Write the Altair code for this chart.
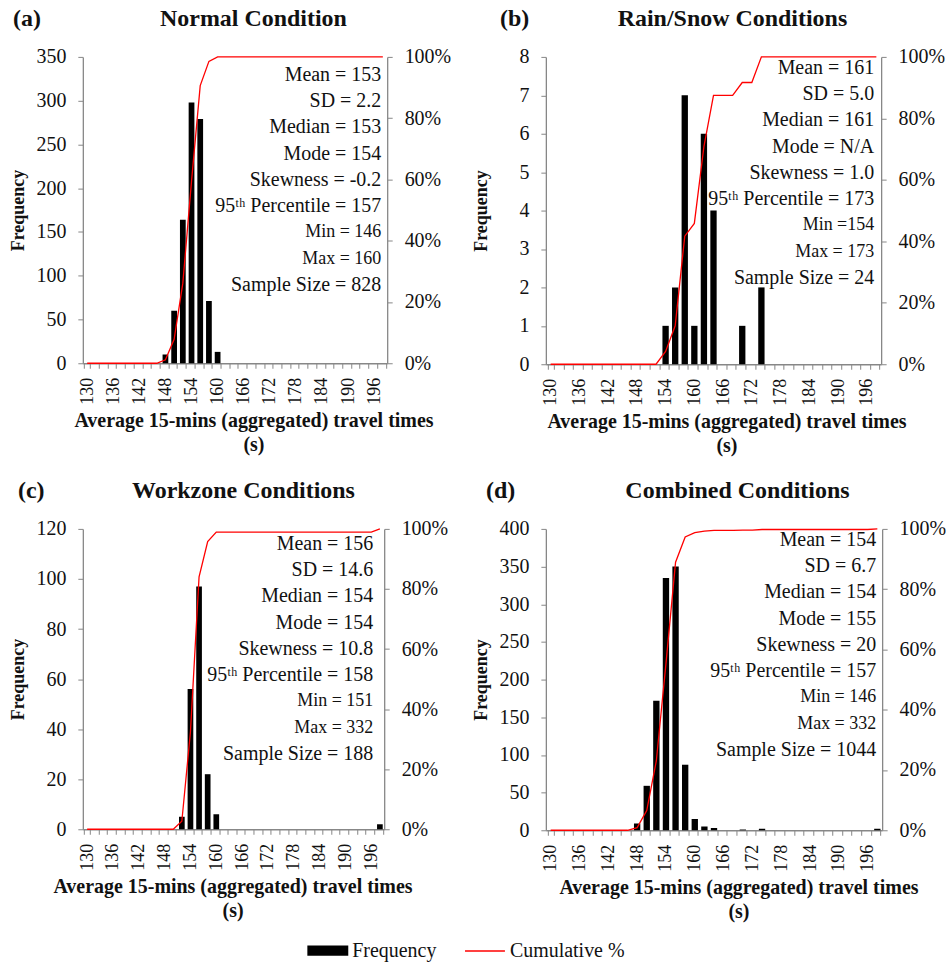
import altair as alt
import pandas as pd

FONT = "Liberation Serif"
AX = "#878787"
TXT = "#111111"

bins = ["130", "132", "134", "136", "138", "140", "142", "144", "146", "148",
        "150", "152", "154", "156", "158", "160", "162", "164", "166", "168",
        "170", "172", "174", "176", "178", "180", "182", "184", "186", "188",
        "190", "192", "194", "196", "198"]
tick_labels = ["130", "136", "142", "148", "154", "160", "166", "172", "178", "184", "190", "196"]

freq_a = [0, 0, 0, 0, 0, 0, 0, 0, 0, 10, 60, 164, 298, 279, 71, 13, 0, 0, 0, 0,
          0, 0, 0, 0, 0, 0, 0, 0, 0, 0, 0, 0, 0, 0, 0]
freq_b = [0, 0, 0, 0, 0, 0, 0, 0, 0, 0, 0, 0, 1, 2, 7, 1, 6, 4, 0, 0,
          1, 0, 2, 0, 0, 0, 0, 0, 0, 0, 0, 0, 0, 0, 0]
freq_c = [0, 0, 0, 0, 0, 0, 0, 0, 0, 0, 0, 5, 56, 97, 22, 6, 0, 0, 0, 0,
          0, 0, 0, 0, 0, 0, 0, 0, 0, 0, 0, 0, 0, 0, 2]
freq_d = [0, 0, 0, 0, 0, 0, 0, 0, 0, 9, 59, 172, 335, 350, 87, 15, 5, 3, 0, 0,
          1, 0, 2, 0, 0, 0, 0, 0, 0, 0, 0, 0, 0, 0, 2]

yticks_a = [0, 50, 100, 150, 200, 250, 300, 350]
yticks_b = [0, 1, 2, 3, 4, 5, 6, 7, 8]
yticks_c = [0, 20, 40, 60, 80, 100, 120]
yticks_d = [0, 50, 100, 150, 200, 250, 300, 350, 400]
pct_ticks = [0, 0.2, 0.4, 0.6, 0.8, 1.0]

stats_a = ["Mean = 153", "SD = 2.2", "Median = 153", "Mode = 154", "Skewness = -0.2",
           "95ᵗʰ Percentile = 157", "Min = 146", "Max = 160", "Sample Size = 828"]
stats_b = ["Mean = 161", "SD = 5.0", "Median = 161", "Mode = N/A", "Skewness = 1.0",
           "95ᵗʰ Percentile = 173", "Min =154", "Max = 173", "Sample Size = 24"]
stats_c = ["Mean = 156", "SD = 14.6", "Median = 154", "Mode = 154", "Skewness = 10.8",
           "95ᵗʰ Percentile = 158", "Min = 151", "Max = 332", "Sample Size = 188"]
stats_d = ["Mean = 154", "SD = 6.7", "Median = 154", "Mode = 155", "Skewness = 20",
           "95ᵗʰ Percentile = 157", "Min = 146", "Max = 332", "Sample Size = 1044"]
stat_small = [0, 0, 0, 0, 0, 0, 1, 1, 0]   # Min / Max lines are set a little smaller

label_list_js = "[" + ",".join("'%s'" % t for t in tick_labels) + "]"
label_expr = "indexof(%s, datum.value) >= 0 ? datum.value : ''" % label_list_js

N = len(bins)
P_IN = 0.34


def panel(letter, title, freq, stats, ymax, yticks, w, h,
          letter_dx, title_cx, xt_cx, stat_dx, stat_y0, legend=False):
    df = pd.DataFrame({"bin": bins, "freq": freq, "k": list(range(N))})
    base = (alt.Chart(df)
            .transform_window(cum="sum(freq)", sort=[alt.SortField("k")])
            .transform_joinaggregate(total="sum(freq)")
            .transform_calculate(pct="datum.cum / datum.total",
                                 s1="'Frequency'", s2="'Cumulative %'"))
    x = alt.X("bin:O", sort=bins,
              scale=alt.Scale(paddingInner=P_IN, paddingOuter=P_IN / 2),
              axis=alt.Axis(title=["Average 15-mins (aggregated) travel times", "(s)"],
                            labelExpr=label_expr, labelAngle=270, labelAlign="right",
                            labelBaseline="middle", labelPadding=9, labelOverlap=False,
                            tickBand="extent", tickSize=5, tickColor=AX, tickWidth=1,
                            domainColor=AX, domainWidth=1.3,
                            labelFont=FONT, labelFontSize=18, labelColor=TXT,
                            titleFont=FONT, titleFontSize=20, titleFontWeight="bold",
                            titleColor=TXT, titleX=xt_cx, titleY=57, titleAlign="center",
                            titleBaseline="middle", titleLineHeight=24))
    yl = alt.Y("freq:Q", scale=alt.Scale(domain=[0, ymax], nice=False),
               axis=alt.Axis(title="Frequency", values=yticks, format="d", grid=False,
                             tickSize=5, tickColor=AX, domainColor=AX, domainWidth=1.3,
                             labelFont=FONT, labelFontSize=20, labelColor=TXT, labelPadding=12,
                             titleFont=FONT, titleFontSize=18, titleFontWeight="bold",
                             titleColor=TXT, titleX=-64, titleY=h / 2, titleAngle=270,
                             titleAlign="center", titleBaseline="middle"))
    yr = alt.Y("pct:Q", scale=alt.Scale(domain=[0, 1], nice=False),
               axis=alt.Axis(orient="right", title=None, values=pct_ticks, format=".0%",
                             grid=False, tickSize=5, tickColor=AX, domainColor=AX,
                             domainWidth=1.3, labelFont=FONT, labelFontSize=20,
                             labelColor=TXT, labelPadding=12))
    if legend:
        bars = base.mark_bar().encode(
            x=x, y=yl,
            fill=alt.Fill("s1:N", scale=alt.Scale(domain=["Frequency"], range=["#000000"]),
                          legend=alt.Legend(orient="none", legendX=225, legendY=875, title=None,
                                            symbolType="M-1,-0.25H1V0.25H-1Z", symbolSize=1681,
                                            symbolStrokeWidth=0, labelFont=FONT, labelFontSize=20,
                                            labelColor=TXT, labelOffset=4)))
        line = base.mark_line(strokeWidth=1.3).encode(
            x=x, y=yr,
            stroke=alt.Stroke("s2:N", scale=alt.Scale(domain=["Cumulative %"], range=["#ff0000"]),
                              legend=alt.Legend(orient="none", legendX=382, legendY=875, title=None,
                                                symbolType="stroke", symbolSize=1600,
                                                symbolStrokeWidth=1.5, labelFont=FONT,
                                                labelFontSize=20, labelColor=TXT, labelOffset=4)))
    else:
        bars = base.mark_bar(color="#000000").encode(x=x, y=yl)
        line = base.mark_line(color="#ff0000", strokeWidth=1.3).encode(x=x, y=yr)

    sdf = pd.DataFrame({"row": list(range(len(stats))), "label": stats, "small": stat_small})
    sy = alt.Y("row:Q", scale=alt.Scale(domain=[0, 8], range=[stat_y0, stat_y0 + 8 * 26.3]),
               axis=None)
    sbase = alt.Chart(sdf)
    stxt_big = sbase.transform_filter("datum.small == 0").mark_text(
        align="right", baseline="middle", font=FONT, fontSize=20, color=TXT).encode(
        x=alt.value(w - stat_dx), y=sy, text="label:N")
    stxt_small = sbase.transform_filter("datum.small == 1").mark_text(
        align="right", baseline="middle", font=FONT, fontSize=18, color=TXT).encode(
        x=alt.value(w - stat_dx), y=sy, text="label:N")

    ldf = pd.DataFrame({"t": [letter]})
    ltxt = alt.Chart(ldf).mark_text(align="left", baseline="alphabetic", font=FONT, fontSize=24,
                                    fontWeight="bold", color=TXT).encode(
        x=alt.value(letter_dx), y=alt.value(-31), text="t:N")
    tdf = pd.DataFrame({"t": [title]})
    ttxt = alt.Chart(tdf).mark_text(align="center", baseline="alphabetic", font=FONT, fontSize=24,
                                    fontWeight="bold", color=TXT).encode(
        x=alt.value(title_cx), y=alt.value(-31), text="t:N")

    return (alt.layer(bars, line, stxt_big, stxt_small, ltxt, ttxt)
            .resolve_scale(y="independent")
            .properties(width=w, height=h))


pa = panel("(a)", "Normal Condition", freq_a, stats_a, 350, yticks_a, 305, 307,
           -70, 171, 171, 6, 18, legend=True)
pb = panel("(b)", "Rain/Snow Conditions", freq_b, stats_b, 8, yticks_b, 336, 308,
           -46, 187, 181, 7, 11)
pc = panel("(c)", "Workzone Conditions", freq_c, stats_c, 120, yticks_c, 302, 301,
           -65, 161, 150, 11, 15)
pd_ = panel("(d)", "Combined Conditions", freq_d, stats_d, 400, yticks_d, 337, 302,
            -60, 192, 193, 6, 11)

chart = (alt.vconcat(alt.hconcat(pa, pb, spacing=22),
                     alt.hconcat(pc, pd_, spacing=25),
                     spacing=24)
         .properties(padding={"left": 10, "top": 6, "right": 5, "bottom": 5},
                     background="white")
         .configure_view(stroke=None))

chart.save("out.html", embed_options={"renderer": "svg", "actions": False})
